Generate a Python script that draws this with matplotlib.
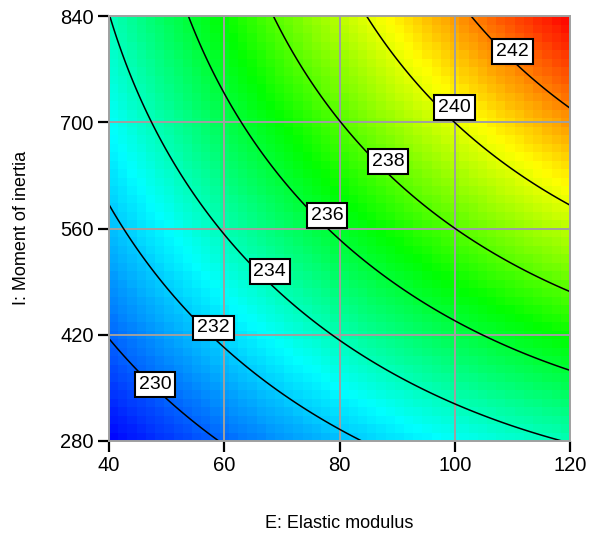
import numpy as np
import matplotlib
matplotlib.use("Agg")
import matplotlib.pyplot as plt
from matplotlib.colors import LinearSegmentedColormap

# Fitted quadratic response in coded units (A = E, B = I, both scaled to -1..1)
# terms: intercept, A, B, AB, A^2, B^2
coef_terms = ["Intercept", "A", "B", "AB", "A^2", "B^2"]
coef_values = [236.2, 3.9, 3.86, 0.94, -0.62, -0.62]

E_range = [40, 120]
I_range = [280, 840]
E_ticks = [40, 60, 80, 100, 120]
I_ticks = [280, 420, 560, 700, 840]
levels = [230, 232, 234, 236, 238, 240, 242]
# where each contour label sits (E, I)
label_E = [48.0, 58.1, 67.9, 77.8, 88.4, 100.0, 110.0]
label_I = [354, 429, 503, 577, 648, 719, 793]

# colour ramp stops (fraction of response range)
ramp_pos = [0.0, 0.31, 0.56, 0.79, 1.0]
ramp_col = ["#0000ff", "#00ffff", "#00ff00", "#ffff00", "#ff0000"]


def response(E, I):
    a = (E - 80.0) / 40.0
    b = (I - 560.0) / 280.0
    c0, cA, cB, cAB, cAA, cBB = coef_values
    return c0 + cA * a + cB * b + cAB * a * b + cAA * a ** 2 + cBB * b ** 2


cmap = LinearSegmentedColormap.from_list("de", list(zip(ramp_pos, ramp_col)))

fig = plt.figure(figsize=(5.99, 5.36), dpi=100)
ax = fig.add_axes([109 / 599, 95 / 536, 461 / 599, 425 / 536])

# blocky colour fill
n = 50
Ee = np.linspace(*E_range, n + 1)
Ie = np.linspace(*I_range, n + 1)
Ec = 0.5 * (Ee[:-1] + Ee[1:])
Ic = 0.5 * (Ie[:-1] + Ie[1:])
Zc = response(*np.meshgrid(Ec, Ic))
zmin = response(E_range[0], I_range[0])
zmax = response(E_range[1], I_range[1])
ax.pcolormesh(Ee, Ie, Zc, cmap=cmap, vmin=zmin, vmax=zmax, shading="flat",
              zorder=0)

# grid
for e in E_ticks[1:-1]:
    ax.axvline(e, color="#a0a0a0", lw=1.4, zorder=1)
for i in I_ticks[1:-1]:
    ax.axhline(i, color="#a0a0a0", lw=1.4, zorder=1)

# contour lines
Ef = np.linspace(*E_range, 300)
If = np.linspace(*I_range, 300)
EF, IF = np.meshgrid(Ef, If)
ax.contour(EF, IF, response(EF, IF), levels=levels, colors="black",
           linewidths=1.1, zorder=2)
for lev, e, i in zip(levels, label_E, label_I):
    ax.text(e, i, str(lev), ha="center", va="center", fontsize=14,
            family="Liberation Sans", zorder=5,
            bbox=dict(boxstyle="square,pad=0.2", fc="white", ec="black",
                      lw=1.5))

ax.set_xlim(*E_range)
ax.set_ylim(*I_range)
ax.set_xticks(E_ticks)
ax.set_yticks(I_ticks)
ax.tick_params(direction="out", length=8, width=1.6, color="black",
               labelsize=14.5, pad=3)
for lab in ax.get_xticklabels() + ax.get_yticklabels():
    lab.set_fontfamily("Liberation Sans")
for sp in ax.spines.values():
    sp.set_color("#a0a0a0")
    sp.set_linewidth(1.4)

fig.text(339 / 599, 1 - 523 / 536, "E: Elastic modulus", ha="center",
         va="center", fontsize=13, family="Liberation Sans")
fig.text(22 / 599, 1 - 228 / 536, "I: Moment of inertia", ha="center",
         va="center", rotation=90, fontsize=13, family="Liberation Sans")

fig.savefig("out.png", dpi=100)
